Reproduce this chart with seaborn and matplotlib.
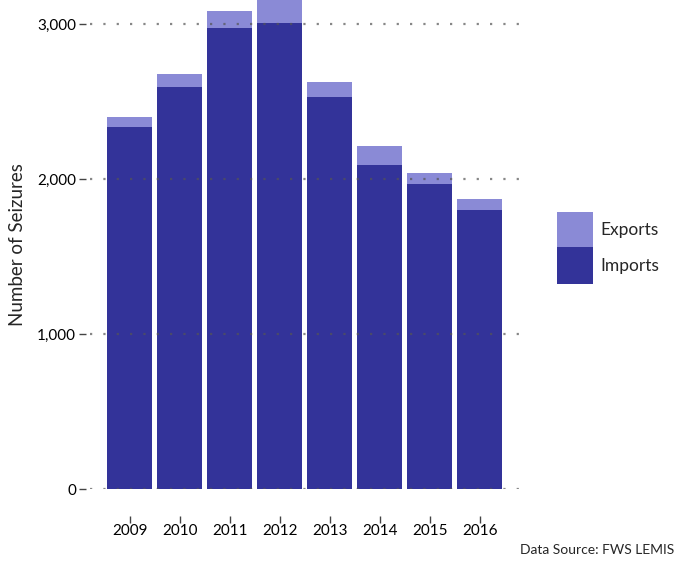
import matplotlib
matplotlib.use("Agg")
import matplotlib.pyplot as plt
import matplotlib.ticker as mticker
import pandas as pd
import seaborn as sns

# Seizures per year (imports + exports stacked)
years = ["2009", "2010", "2011", "2012", "2013", "2014", "2015", "2016"]
imports = [2335, 2594, 2974, 3006, 2529, 2090, 1968, 1800]
exports = [65, 83, 110, 250, 97, 123, 71, 71]

dark = "#333399"
light = "#8a8ad6"

df = pd.DataFrame({"year": years, "imports": imports, "exports": exports})
df["total"] = df["imports"] + df["exports"]

sns.set_style("white")
plt.rcParams["font.family"] = ["Lato", "DejaVu Sans"]

fig = plt.figure(figsize=(6.76, 5.63), dpi=100)
ax = fig.add_axes([0.133, 0.131, 0.6398, 0.869])

sns.barplot(data=df, x="year", y="total", color=light, width=0.9,
            saturation=1, linewidth=0, edgecolor="none", label="Exports", ax=ax)
sns.barplot(data=df, x="year", y="imports", color=dark, width=0.9,
            saturation=1, linewidth=0, edgecolor="none", label="Imports", ax=ax)

ax.set_ylim(0, 3155)
ax.set_xlim(-0.8, 7.85)
ax.yaxis.set_major_locator(mticker.MultipleLocator(1000))
ax.yaxis.set_major_formatter(mticker.FuncFormatter(lambda v, p: f"{int(v):,}"))

ax.set_axisbelow(False)
ax.yaxis.grid(True, linestyle=(0, (1, 5)), linewidth=1.6, color="#555555", alpha=0.7)
ax.xaxis.grid(False)

for s in ax.spines.values():
    s.set_visible(False)
ax.spines["bottom"].set_position(("outward", 19))
ax.spines["left"].set_position(("outward", 3))

ax.tick_params(axis="both", which="major", length=5, width=1, color="#444444",
               labelsize=11, labelcolor="black")
ax.tick_params(axis="y", pad=2)
ax.tick_params(axis="x", pad=1)
ax.tick_params(left=True, bottom=True)

ax.set_xlabel("")
ax.set_ylabel("Number of Seizures", fontsize=13.5, labelpad=8)

h, l = ax.get_legend_handles_labels()
ax.legend(h, l, loc="center left", bbox_to_anchor=(0.811, 0.56),
          bbox_transform=fig.transFigure, frameon=False, fontsize=12.5,
          handlelength=2.1, handleheight=2.85, labelspacing=-0.03, borderpad=0,
          handletextpad=0.4)

fig.text(0.997, 0.012, "Data Source: FWS LEMIS", ha="right", va="bottom", fontsize=10)

fig.savefig("out.png", dpi=100)
